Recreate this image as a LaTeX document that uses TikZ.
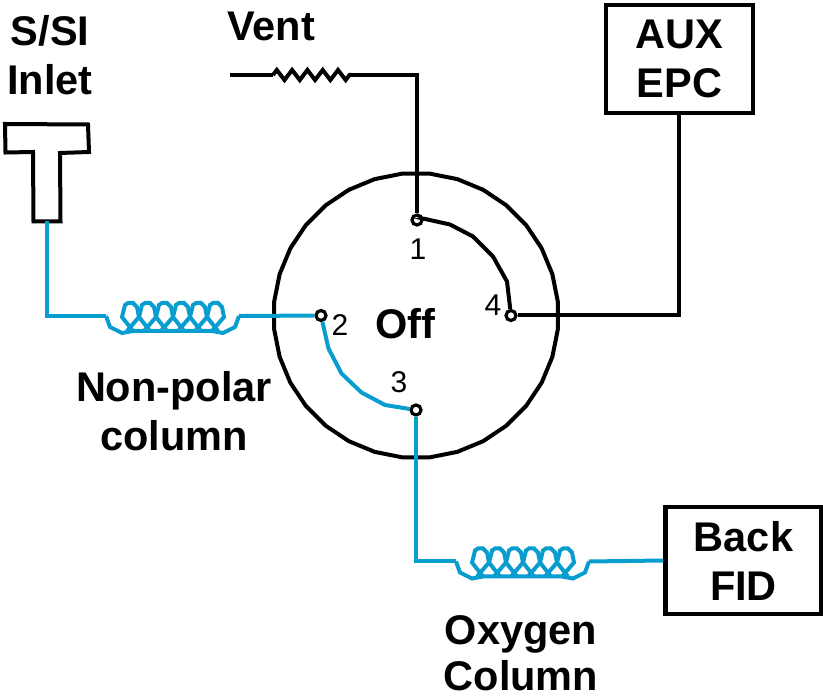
\documentclass[tikz,border=0pt]{standalone}
\usepackage{fontspec}
\setmainfont{Liberation Sans}
\usetikzlibrary{shapes.geometric,decorations.pathmorphing}
\definecolor{tubeblue}{RGB}{8,157,207}
\tikzset{
	blackwire/.style={line width=4pt,line join=miter},
	bluewire/.style={line width=4pt,color=tubeblue},
	port/.style={circle,draw,fill=white,line width=3.2pt,minimum size=10pt,inner sep=0pt},
	portnum/.style={font=\fontsize{30}{30}\selectfont,inner sep=0pt},
	label/.style={font=\fontsize{41.5}{49}\selectfont\bfseries,align=center,inner sep=0pt},
	boxlabel/.style={label,draw,line width=4.5pt},
	gccoil/.pic={
		\coordinate (-in) at (0,0);
		\coordinate (-out) at (133,0);
		\draw[bluewire] (0,0) -- (4,11) -- (16,17) -- (27,15) -- (106,15) -- (117,17) -- (129,11) -- (133,0);
		\foreach \cx in {24,41,58,75,92,109} {
			\draw[bluewire] (\cx+3,15) -- (\cx-8,1) -- (\cx-5,-11) -- (\cx-2,-13) -- (\cx+3,-13) -- (\cx+7,-9) -- (\cx+9,1) -- (\cx-3,15);
		}
	}
}
\begin{document}
\begin{tikzpicture}[x=1pt,y=-1pt]
	\useasboundingbox (0,0) rectangle (823,700);
	\node[regular polygon,regular polygon sides=32,draw,line width=4pt,minimum size=285pt,inner sep=0pt] (valve) at (416,315.5) {};
	\node[port] (port1) at (417,220) {};
	\node[port] (port2) at (321,315.5) {};
	\node[port] (port3) at (416,410) {};
	\node[port] (port4) at (511,315.5) {};
	\node[portnum] (num1) at (418,249) {1};
	\node[portnum] (num2) at (340,325) {2};
	\node[portnum] (num3) at (399,382) {3};
	\node[portnum] (num4) at (493,305) {4};
	\node[label] (off) at (405,324) {Off};
	\node[label] (vent) at (271,26) {Vent};
	\node[label] (inlet) at (50,55) {S/SI\\Inlet};
	\node[label] (nonpolar) at (174,411) {Non-polar\\column};
	\node[label,text depth=0pt,anchor=south] (oxygen) at (521,691) {Oxygen\\[-3pt]Column};
	\node[boxlabel,minimum width=147pt,minimum height=108pt] (aux) at (679.5,59) {AUX\\EPC};
	\node[boxlabel,minimum width=156pt,minimum height=107pt] (fid) at (743.5,560.5) {Back\\FID};
	\coordinate (ventfree) at (230,75);
	\coordinate (ventin) at (273,75);
	\coordinate (ventout) at (352,75);
	\coordinate (teebottom) at (47,221);
	\draw[blackwire] (5,124) -- (88,124.5) -- (89,152) -- (60,153) -- (60.5,221.5) -- (33.5,221.5) -- (33,152) -- (5.5,152.5) -- cycle;
	\draw[blackwire] (ventfree) -- (ventin);
	\draw[blackwire,decorate,decoration={zigzag,amplitude=5pt,segment length=15.3pt}] (ventin) -- (ventout);
	\draw[blackwire] (ventout) -| (port1);
	\draw[blackwire] (aux.south -| 679,0) |- (port4);
	\draw[blackwire] (port1) -- (423,218.5) -- (450,224.5) -- (473,236.5) -- (493,256.5) -- (507,281.5) -- (port4);
	\path (106,316) pic (coilone) {gccoil};
	\path (456,561.5) pic (coiltwo) {gccoil};
	\draw[bluewire] (teebottom) |- (coilone-in);
	\draw[bluewire] (coilone-out) -- (port2);
	\draw[bluewire] (port2) -- (328.5,348.5) -- (341.5,373.5) -- (361.5,392.5) -- (385,405) -- (port3);
	\draw[bluewire] (port3) |- (coiltwo-in);
	\draw[bluewire] (coiltwo-out) -- (fid.west);
\end{tikzpicture}
\end{document}
